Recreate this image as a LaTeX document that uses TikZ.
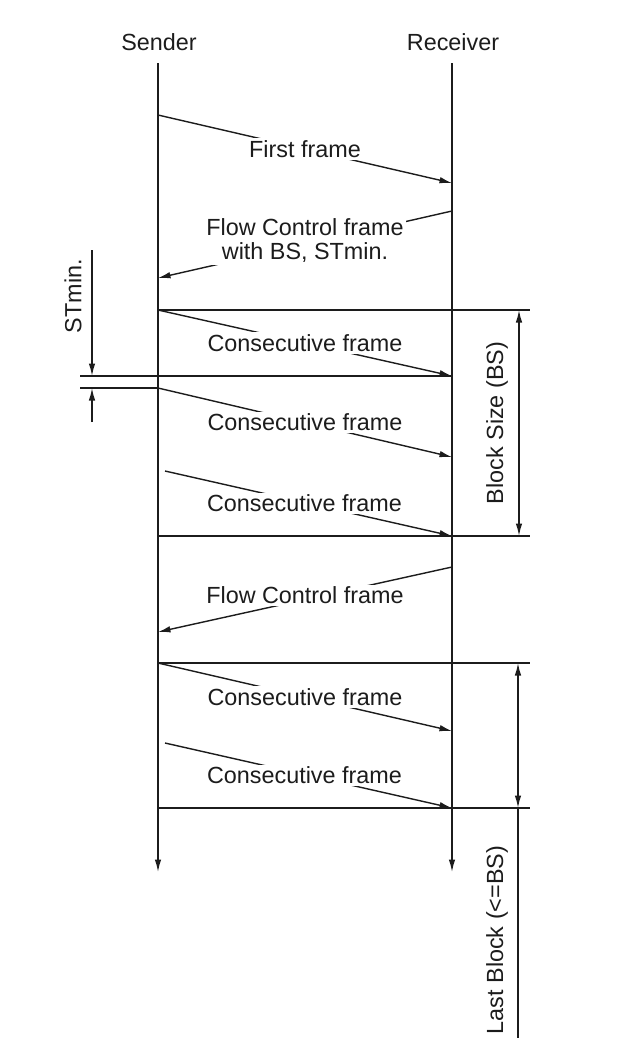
\documentclass[tikz,border=0pt]{standalone}
\usepackage{fontspec}
\setmainfont{Liberation Sans}
\usetikzlibrary{arrows.meta}
\definecolor{inkBlack}{RGB}{28,28,28}

\begin{document}
\begin{tikzpicture}[x=0.02cm,y=-0.02cm,line width=0.8pt,color=inkBlack,
  font=\fontsize{13.3}{13.7}\selectfont,
  tipArrow/.style={-{Latex[length=2.5mm,width=1.3mm]}},
  tipBoth/.style={{Latex[length=2.5mm,width=1.3mm]}-{Latex[length=2.5mm,width=1.3mm]}},
  frameLabel/.style={midway,fill=white,inner sep=1.2pt,align=center}]
\useasboundingbox (0,0) rectangle (621,1042);
% lifelines
\node (sndLabel) at (159,42) {Sender};
\node (rcvLabel) at (453,42) {Receiver};
\coordinate (sndTop) at (158,63); \coordinate (sndEnd) at (158,872);
\coordinate (rcvTop) at (452,63); \coordinate (rcvEnd) at (452,872);
\draw[tipArrow] (sndTop) -- (sndEnd);
\draw[tipArrow] (rcvTop) -- (rcvEnd);
% first frame and flow control
\coordinate (ffS) at (158,115); \coordinate (ffR) at (452,183);
\draw[tipArrow] (ffS) -- node[frameLabel] {First frame} (ffR);
\coordinate (fcR) at (452,211); \coordinate (fcS) at (158,278);
\draw[tipArrow] (fcR) -- node[frameLabel,yshift=0.08cm] {Flow Control frame\\with BS, STmin.} (fcS);
% first block
\draw (158,310) -- (530,310);
\coordinate (cfS1) at (158,310); \coordinate (cfR1) at (452,376);
\draw[tipArrow] (cfS1) -- node[frameLabel] {Consecutive frame} (cfR1);
\draw (80,376) -- (452,376);
\draw (80,388) -- (158,388);
\coordinate (cfS2) at (158,388); \coordinate (cfR2) at (452,457);
\draw[tipArrow] (cfS2) -- node[frameLabel] {Consecutive frame} (cfR2);
\coordinate (cfS3) at (165,471); \coordinate (cfR3) at (452,536);
\draw[tipArrow] (cfS3) -- node[frameLabel,xshift=-0.08cm] {Consecutive frame} (cfR3);
\draw (158,536) -- (530,536);
% STmin and block size
\draw[tipArrow] (92,250) -- (92,376);
\draw[tipArrow] (92,422) -- (92,388);
\node[rotate=90] (stminLabel) at (73,296) {STmin.};
\draw[tipBoth] (519,310) -- (519,536);
\node[rotate=90] (bsLabel) at (497,423) {Block Size (BS)};
% second flow control and last block
\coordinate (fc2R) at (452,567); \coordinate (fc2S) at (158,632);
\draw[tipArrow] (fc2R) -- node[frameLabel,yshift=0.08cm] {Flow Control frame} (fc2S);
\draw (158,663) -- (530,663);
\coordinate (cfS4) at (158,663); \coordinate (cfR4) at (452,731);
\draw[tipArrow] (cfS4) -- node[frameLabel] {Consecutive frame} (cfR4);
\coordinate (cfS5) at (165,743); \coordinate (cfR5) at (452,808);
\draw[tipArrow] (cfS5) -- node[frameLabel,xshift=-0.08cm] {Consecutive frame} (cfR5);
\draw (158,808) -- (530,808);
\draw[tipBoth] (518,663) -- (518,808);
\draw (518,808) -- (518,1038);
\node[rotate=90] (lastLabel) at (497,940) {Last Block (<=BS)};
\end{tikzpicture}
\end{document}
